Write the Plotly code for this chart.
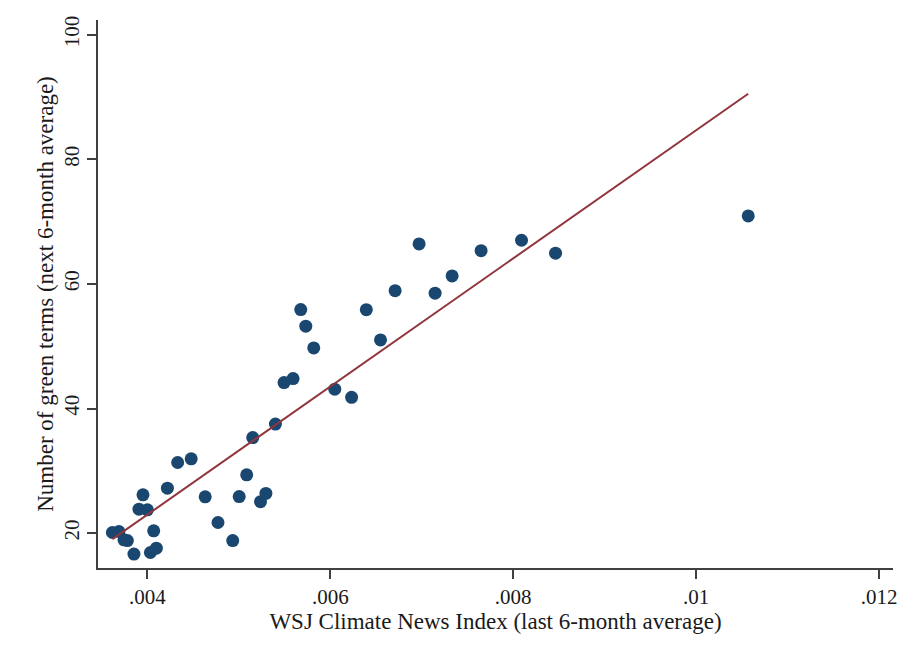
import numpy as np
import plotly.graph_objects as go

# WSJ Climate News Index (last 6-month average)
wsj_index = [0.003617, 0.003689, 0.003744, 0.003781, 0.003853, 0.003908, 0.003952, 0.004000,
             0.004033, 0.004069, 0.004098, 0.004219, 0.004331, 0.004479, 0.004632, 0.004772,
             0.004933, 0.005004, 0.005086, 0.005152, 0.005237, 0.005296, 0.005400, 0.005494,
             0.005593, 0.005677, 0.005732, 0.005819, 0.006049, 0.006233, 0.006394, 0.006549,
             0.006709, 0.006971, 0.007146, 0.007332, 0.007649, 0.008091, 0.008463, 0.010570]
# Number of green terms (next 6-month average)
green_terms = [20.1, 20.26, 18.93, 18.81, 16.63, 23.85, 26.14, 23.74,
               16.89, 20.37, 17.59, 27.22, 31.33, 31.92, 25.82, 21.7,
               18.81, 25.86, 29.35, 35.34, 25.05, 26.37, 37.5, 44.16,
               44.81, 55.88, 53.21, 49.73, 43.1, 41.79, 55.86, 51.01,
               58.92, 66.42, 58.51, 61.28, 65.34, 67.01, 64.93, 70.91]

x_tick_vals = [0.004, 0.006, 0.008, 0.010, 0.012]
x_tick_text = [".004", ".006", ".008", ".01", ".012"]
y_tick_vals = [20, 40, 60, 80, 100]
y_tick_text = ["20", "40", "60", "80", "100"]

x = np.array(wsj_index)
y = np.array(green_terms)
slope, intercept = np.polyfit(x, y, 1)
fit_x = np.array([x.min(), x.max()])
fit_y = intercept + slope * fit_x

FONT = "Liberation Serif, Times New Roman, serif"
AX = "#404040"

fig = go.Figure()
fig.add_trace(go.Scatter(x=x, y=y, mode="markers",
                         marker=dict(color="#1a476f", size=13, line=dict(width=0)),
                         showlegend=False, cliponaxis=False))
fig.add_trace(go.Scatter(x=fit_x, y=fit_y, mode="lines",
                         line=dict(color="#90353b", width=2),
                         showlegend=False))

fig.update_layout(
    width=903, height=654,
    margin=dict(l=98, r=10, t=20, b=86, autoexpand=False),
    paper_bgcolor="white", plot_bgcolor="white",
    font=dict(family=FONT, size=19, color="#1a1a1a"),
    xaxis=dict(range=[0.00346, 0.012153], tickvals=x_tick_vals, ticktext=x_tick_text,
               showgrid=False, zeroline=False, showline=True, linecolor=AX, linewidth=1.5,
               ticks="outside", ticklen=9, tickwidth=1.5, tickcolor=AX, automargin=False,
               title=dict(text="WSJ Climate News Index (last 6-month average)", standoff=0),
               tickfont=dict(size=21)),
    yaxis=dict(range=[14.4, 102.36], tickvals=y_tick_vals, ticktext=y_tick_text,
               showgrid=False, zeroline=False, showline=True, linecolor=AX, linewidth=1.5,
               ticks="outside", ticklen=9, tickwidth=1.5, tickcolor=AX, tickangle=-90,
               automargin=False,
               title=dict(text="Number of green terms (next 6-month average)", standoff=0),
               tickfont=dict(size=21)),
)

fig.write_html("out.html")
